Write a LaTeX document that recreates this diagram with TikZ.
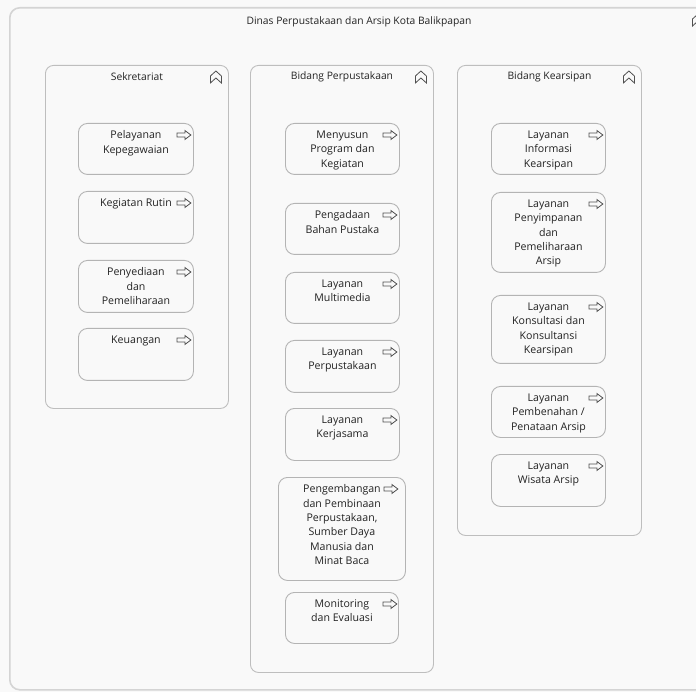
\documentclass[tikz,border=0pt]{standalone}
\usepackage{fontspec}
\setmainfont{Open Sans}
\usetikzlibrary{calc}
\definecolor{bgc}{HTML}{F9F9F9}
\definecolor{framec}{HTML}{D4D4D4}
\definecolor{grpc}{HTML}{BEBEBE}
\definecolor{boxc}{HTML}{B4B4B4}
\definecolor{txtc}{HTML}{222222}
\definecolor{iconc}{HTML}{505050}
\tikzset{
  outerframe/.style={draw=framec, line width=1.6pt, fill=bgc, rounded corners=10pt},
  groupbox/.style={draw=grpc, line width=0.9pt, fill=bgc, rounded corners=8pt},
  procbox/.style={draw=boxc, line width=0.9pt, fill=bgc, rounded corners=9pt},
  grouptitle/.style={font=\fontsize{10.3}{13}\selectfont, text=txtc, inner sep=0pt},
  boxtext/.style={font=\fontsize{10.6}{14.4}\selectfont, text=txtc, align=center, inner sep=0pt, anchor=north},
  procicon/.pic={\draw[iconc, line width=0.8pt, line join=miter]
      (-7,-2)--(1,-2)--(1,-4.5)--(7,0)--(1,4.5)--(1,2)--(-7,2)--cycle;},
  funcicon/.pic={\draw[iconc, line width=0.8pt, line join=miter]
      (0,-6)--(5.5,-1)--(5.5,6)--(0,1)--(-5.5,6)--(-5.5,-1)--cycle;},
}
\newcommand\PBox[7]{%
  \node[procbox, anchor=north west, minimum width={#4-#2}, minimum height={#5-#3}] (#1) at (#2,#3) {};
  \node[boxtext] (#1-t) at ($(#1.north)+(0,7.5)$) {#6};
  \pic at ($(#1.north east)+(-#7,12)$) {procicon};
}
\newcommand\GBox[6]{%
  \node[groupbox, anchor=north west, minimum width={#4-#2}, minimum height={#5-#3}] (#1) at (#2,#3) {};
  \node[grouptitle] (#1-t) at ($(#1.north)+(0,12)$) {#6};
  \pic at ($(#1.north east)+(-13,12)$) {funcicon};
}
\begin{document}
\begin{tikzpicture}[x=1pt,y=-1pt]
  \useasboundingbox (0,0) rectangle (696,692);
  \clip (0,0) rectangle (696,692);
  \fill[bgc] (0,0) rectangle (696,692);
  % outer frame
  \node[outerframe, anchor=north west, minimum width=720, minimum height=682] (outer) at (9,7) {};
  \node[grouptitle] (outer-t) at (359,22) {Dinas Perpustakaan dan Arsip Kota Balikpapan};
  \pic at (698,20) {funcicon};
  % groups
  \GBox{g1}{45}{65}{228}{408}{Sekretariat}
  \GBox{g2}{250}{65}{433}{672}{Bidang Perpustakaan}
  \GBox{g3}{457}{65}{641}{535}{Bidang Kearsipan}
  % Sekretariat
  \PBox{s1}{78}{123}{193}{174}{Pelayanan\\Kepegawaian}{10}
  \PBox{s2}{78}{191}{193}{243}{Kegiatan Rutin}{10}
  \PBox{s3}{78}{260}{193}{312}{Penyediaan\\dan\\Pemeliharaan}{10}
  \PBox{s4}{78}{328}{193}{380}{Keuangan}{10}
  % Bidang Perpustakaan
  \PBox{p1}{285}{123}{399}{174}{Menyusun\\Program dan\\Kegiatan}{10}
  \PBox{p2}{285}{203}{399}{254}{Pengadaan\\Bahan Pustaka}{10}
  \PBox{p3}{285}{272}{399}{323}{Layanan\\Multimedia}{10}
  \PBox{p4}{285}{340}{399}{392}{Layanan\\Perpustakaan}{10}
  \PBox{p5}{285}{408}{399}{460}{Layanan\\Kerjasama}{10}
  \PBox{p6}{278}{477}{405}{580}{Pengembangan\\dan Pembinaan\\Perpustakaan,\\Sumber Daya\\Manusia dan\\Minat Baca}{15}
  \PBox{p7}{285}{592}{398}{643}{Monitoring\\dan Evaluasi}{9}
  % Bidang Kearsipan
  \PBox{k1}{491}{123}{605}{174}{Layanan\\Informasi\\Kearsipan}{10}
  \PBox{k2}{491}{192}{605}{272}{Layanan\\Penyimpanan\\dan\\Pemeliharaan\\Arsip}{10}
  \PBox{k3}{491}{295}{605}{363}{Layanan\\Konsultasi dan\\Konsultansi\\Kearsipan}{10}
  \PBox{k4}{491}{386}{605}{437}{Layanan\\Pembenahan /\\Penataan Arsip}{10}
  \PBox{k5}{491}{454}{605}{506}{Layanan\\Wisata Arsip}{10}
\end{tikzpicture}
\end{document}
